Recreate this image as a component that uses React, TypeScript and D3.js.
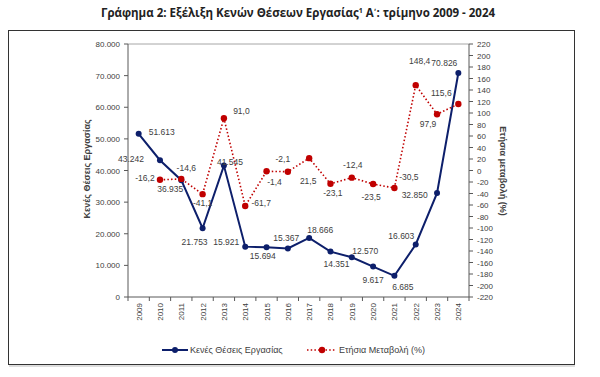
import React from "react";
import * as d3 from "d3";

const years = ["2009","2010","2011","2012","2013","2014","2015","2016","2017","2018","2019","2020","2021","2022","2023","2024"];
const vacancies = [51613, 43242, 36935, 21753, 41545, 15921, 15694, 15367, 18666, 14351, 12570, 9617, 6685, 16603, 32850, 70826];
const changes: (number | null)[] = [null, -16.2, -14.6, -41.1, 91.0, -61.7, -1.4, -2.1, 21.5, -23.1, -12.4, -23.5, -30.5, 148.4, 97.9, 115.6];
// label placement offsets (label centre relative to point)
const vacLabelPos: [number, number][] = [
  [23, -1.5], [-29, -1], [-11, 9], [-8, 14], [6, -4], [-19, -4.6], [-3.7, 8.6], [-1.6, -10], [11, -8], [6, 12.4], [13.5, -6], [0, 13.4], [8.5, 11.4], [-14.4, -8.8], [-22.4, 2], [-14, -9.7]
];
const chgLabelPos: [number, number][] = [
  [0, 0], [-15, -1.5], [5, -10.6], [0, 8.6], [17.5, -7], [16, -3.3], [8, 11], [-5, -12.4], [-1, 23], [2.4, 9], [1, -12.6], [-2, 12.7], [14.5, -11.3], [4, -24.5], [-9, 9.8], [-17, -10.7]
];
const leftTicks = [0, 10000, 20000, 30000, 40000, 50000, 60000, 70000, 80000];
const rightTicks = d3.range(-220, 221, 20);

const BLUE = "#0d1f6b";
const RED = "#c00000";
const TXT = "#404040";
const FONT = "'Liberation Sans', Arial, sans-serif";

export default function App() {
  const left = 128, right = 469, top = 44, bottom = 297;
  const x = d3.scaleBand<string>().domain(years).range([left, right]);
  const cx = (i: number) => (x(years[i]) as number) + x.bandwidth() / 2;
  const yL = d3.scaleLinear().domain([0, 80000]).range([bottom, top]);
  const yR = d3.scaleLinear().domain([-220, 220]).range([bottom, top]);
  const fmtK = (v: number) => d3.format(",")(v).replace(/,/g, ".");
  const fmtP = (v: number) => v.toFixed(1).replace(".", ",");

  const vacLine = d3.line<number>().x((_, i) => cx(i)).y((d) => yL(d));
  const chgPts = changes.map((v, i) => ({ v, i })).filter((d) => d.v !== null) as { v: number; i: number }[];
  const chgLine = d3.line<{ v: number; i: number }>().x((d) => cx(d.i)).y((d) => yR(d.v));

  return (
    <svg width={600} height={377} style={{ position: "absolute", left: 0, top: 0, background: "#fff" }} fontFamily={FONT}>
      <text x={298} y={17} textAnchor="middle" fontSize={11.5} fontWeight="bold" fill="#222" fontFamily="'Open Sans', sans-serif">
        Γράφημα 2: Εξέλιξη Κενών Θέσεων Εργασίας<tspan fontSize={7} dy={-4}>1</tspan><tspan dy={4}> Α</tspan><tspan fontFamily="'DejaVu Sans'" fontSize={9} dy={-1}>{"\u02B9"}</tspan><tspan dy={1}>: τρίμηνο 2009 - 2024</tspan>
      </text>
      <rect x={8.5} y={30.5} width={566} height={334} fill="none" stroke="#333" strokeWidth={1} />
      <line x1={9} x2={575} y1={366} y2={366} stroke="#bbb" />
      {/* plot border */}
      <line x1={left} x2={right} y1={top} y2={top} stroke="#a6a6a6" strokeWidth={1} />
      {/* left axis */}
      <line x1={left} x2={left} y1={top} y2={bottom} stroke="#595959" />
      {leftTicks.map((t) => (
        <g key={t}>
          <line x1={left - 4} x2={left} y1={yL(t)} y2={yL(t)} stroke="#595959" />
          <text x={left - 8} y={yL(t) + 3} textAnchor="end" fontSize={8} fill={TXT}>{fmtK(t)}</text>
        </g>
      ))}
      {/* right axis */}
      <line x1={right} x2={right} y1={top} y2={bottom} stroke="#595959" />
      {rightTicks.map((t) => (
        <g key={t}>
          <line x1={right} x2={right + 4} y1={yR(t)} y2={yR(t)} stroke="#595959" />
          <text x={right + 8} y={yR(t) + 3} textAnchor="start" fontSize={8} fill={TXT}>{t}</text>
        </g>
      ))}
      {/* x axis */}
      <line x1={left} x2={right} y1={bottom} y2={bottom} stroke="#595959" />
      {years.map((yr, i) => (
        <g key={yr}>
          <line x1={x(yr) as number} x2={x(yr) as number} y1={bottom} y2={bottom + 4} stroke="#595959" />
          <text transform={`translate(${cx(i) + 3},${bottom + 6}) rotate(-90)`} textAnchor="end" fontSize={8} fill={TXT}>{yr}</text>
        </g>
      ))}
      <line x1={right} x2={right} y1={bottom} y2={bottom + 4} stroke="#595959" />
      {/* axis titles */}
      <text transform={`translate(90,169) rotate(-90)`} textAnchor="middle" fontSize={9} fontWeight="bold" fill={TXT}>Κενές Θέσεις Εργασίας</text>
      <text transform={`translate(500,171) rotate(90)`} textAnchor="middle" fontSize={9} fontWeight="bold" fill={TXT}>Ετήσια μεταβολή (%)</text>
      {/* vacancy series */}
      <path d={vacLine(vacancies) || ""} fill="none" stroke={BLUE} strokeWidth={2} />
      {vacancies.map((v, i) => (
        <circle key={i} cx={cx(i)} cy={yL(v)} r={3} fill={BLUE} />
      ))}
      {/* change series */}
      <path d={chgLine(chgPts) || ""} fill="none" stroke={RED} strokeWidth={1.6} strokeDasharray="1.5,2.2" />
      {chgPts.map((d) => (
        <circle key={d.i} cx={cx(d.i)} cy={yR(d.v)} r={3.2} fill={RED} />
      ))}
      {/* labels */}
      {vacancies.map((v, i) => (
        <text key={i} x={cx(i) + vacLabelPos[i][0]} y={yL(v) + vacLabelPos[i][1] + 3} textAnchor="middle" fontSize={8.5} fill={TXT}>{fmtK(v)}</text>
      ))}
      {chgPts.map((d) => (
        <text key={d.i} x={cx(d.i) + chgLabelPos[d.i][0]} y={yR(d.v) + chgLabelPos[d.i][1] + 3} textAnchor="middle" fontSize={8.5} fill={TXT}>{fmtP(d.v)}</text>
      ))}
      {/* legend */}
      <line x1={162} x2={188} y1={350} y2={350} stroke={BLUE} strokeWidth={2} />
      <circle cx={175} cy={350} r={3} fill={BLUE} />
      <text x={190} y={353} fontSize={9} fill={TXT}>Κενές Θέσεις Εργασίας</text>
      <line x1={307} x2={336} y1={350} y2={350} stroke={RED} strokeWidth={1.6} strokeDasharray="1.5,2.2" />
      <circle cx={322} cy={350} r={3.2} fill={RED} />
      <text x={339} y={353} fontSize={9} fill={TXT}>Ετήσια Μεταβολή (%)</text>
    </svg>
  );
}
